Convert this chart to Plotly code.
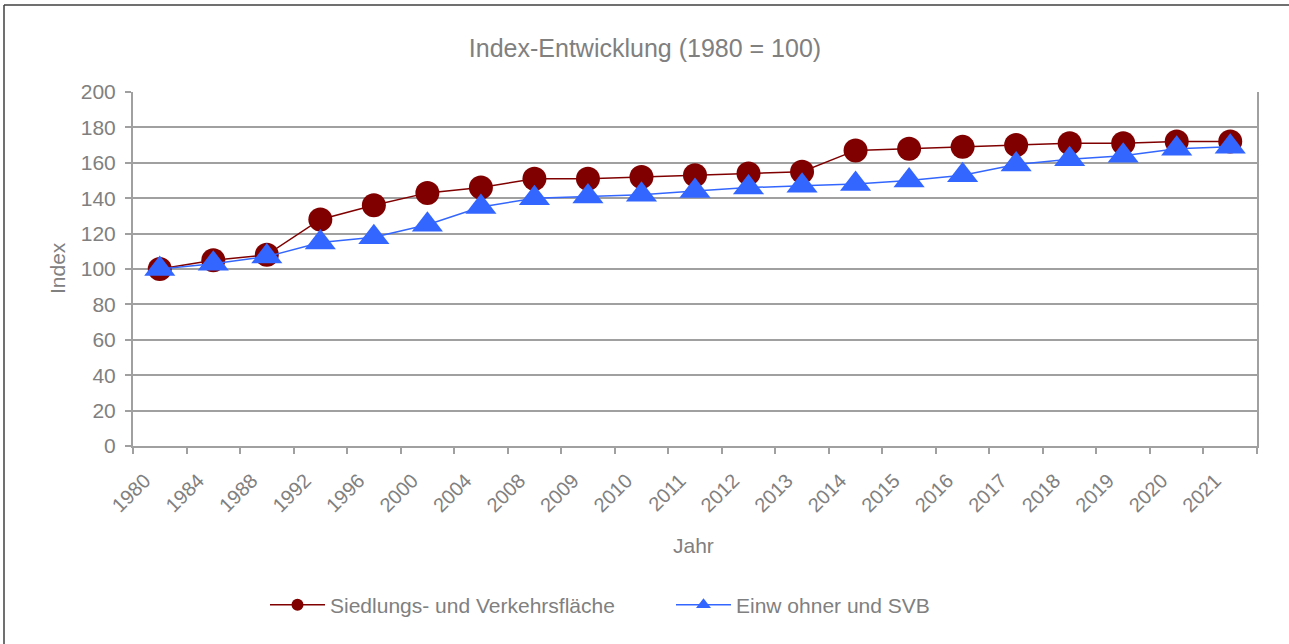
import plotly.graph_objects as go

jahre = ["1980", "1984", "1988", "1992", "1996", "2000", "2004", "2008", "2009", "2010",
         "2011", "2012", "2013", "2014", "2015", "2016", "2017", "2018", "2019", "2020", "2021"]
siedlung = [100, 105, 108, 128, 136, 143, 146, 151, 151, 152,
            153, 154, 155, 167, 168, 169, 170, 171, 171, 172, 172]
einwohner = [100, 103, 107, 115, 118, 125, 135, 140, 141, 142,
             144, 146, 147, 148, 150, 153, 159, 162, 164, 168, 169]
serien = ["Siedlungs- und Verkehrsfläche", "Einw ohner und SVB"]

GREY = "#808080"
GRID = "#A0A0A0"
RED = "#800000"
BLUE = "#3366FF"
FONT = "Liberation Sans, Arial, sans-serif"

W, H = 1289, 644
L, R, T, B = 133, 32, 92, 198
PW, PH = W - L - R, H - T - B

fig = go.Figure()
fig.add_trace(go.Scatter(
    x=jahre, y=siedlung, name=serien[0], showlegend=False,
    mode="lines+markers",
    line=dict(color=RED, width=1.5),
    marker=dict(symbol="circle", size=24, color=RED),
))
fig.add_trace(go.Scatter(
    x=jahre, y=einwohner, name=serien[1], showlegend=False,
    mode="lines+markers",
    line=dict(color=BLUE, width=1.5),
    marker=dict(symbol="triangle-up", size=27, color=BLUE),
))
# legend entries (small symbols, thin lines as in the reference legend)
fig.add_trace(go.Scatter(
    x=[None], y=[None], name=serien[0], mode="lines+markers",
    line=dict(color=RED, width=1.5),
    marker=dict(symbol="circle", size=12, color=RED),
))
fig.add_trace(go.Scatter(
    x=[None], y=[None], name=serien[1], mode="lines+markers",
    line=dict(color=BLUE, width=1.5),
    marker=dict(symbol="triangle-up", size=13, color=BLUE),
))

fig.update_layout(
    width=W, height=H,
    paper_bgcolor="white", plot_bgcolor="white",
    margin=dict(l=L, r=R, t=T, b=B),
    font=dict(family=FONT, color=GREY, size=20),
    title=dict(text="Index-Entwicklung (1980 = 100)", x=645 / W, xanchor="center",
               y=1 - 48 / H, yanchor="middle",
               font=dict(size=25, color=GREY, family=FONT)),
    showlegend=True,
    legend=dict(orientation="h", x=(265 - L) / PW, xanchor="left",
                y=-(605 - (T + PH)) / PH, yanchor="middle",
                font=dict(size=21, color=GREY, family=FONT),
                itemsizing="trace", itemwidth=55,
                entrywidthmode="pixels", entrywidth=336),
    xaxis=dict(
        type="category", tickangle=-45, tickson="boundaries",
        ticks="outside", ticklen=6, tickcolor=GRID, tickwidth=1.5,
        showline=True, linecolor=GRID, linewidth=2,
        showgrid=False,
        tickfont=dict(size=20, color=GREY),
        ticklabelshift=-15, ticklabelstandoff=13,
        range=[-0.5, len(jahre) - 0.5],
    ),
    yaxis=dict(
        range=[0, 200], dtick=20,
        showgrid=True, gridcolor=GRID, gridwidth=2,
        showline=True, linecolor=GRID, linewidth=2, mirror=True,
        ticks="outside", ticklen=6, tickcolor=GRID, tickwidth=1.5,
        zeroline=False,
        tickfont=dict(size=21, color=GREY),
        ticklabelstandoff=5,
    ),
    annotations=[
        dict(text="Jahr", xref="paper", yref="paper",
             x=(693 - L) / PW, y=-(545 - (T + PH)) / PH,
             xanchor="center", yanchor="middle", showarrow=False,
             font=dict(size=21, color=GREY, family=FONT)),
        dict(text="Index", xref="paper", yref="paper",
             x=(57 - L) / PW, y=(T + PH - 268) / PH, textangle=-90,
             xanchor="center", yanchor="middle", showarrow=False,
             font=dict(size=21, color=GREY, family=FONT)),
    ],
)

# outer frame (top and left edges)
fx = (4 - L) / PW
fy = (T + PH - 5) / PH
fig.add_shape(type="line", xref="paper", yref="paper",
              x0=fx, x1=1.2, y0=fy, y1=fy,
              line=dict(color="#404040", width=1.5))
fig.add_shape(type="line", xref="paper", yref="paper",
              x0=fx, x1=fx, y0=fy, y1=-0.7,
              line=dict(color="#404040", width=1.5))

fig.write_html("out.html", config={"displayModeBar": False},
               post_script="document.body.style.margin='0';")
